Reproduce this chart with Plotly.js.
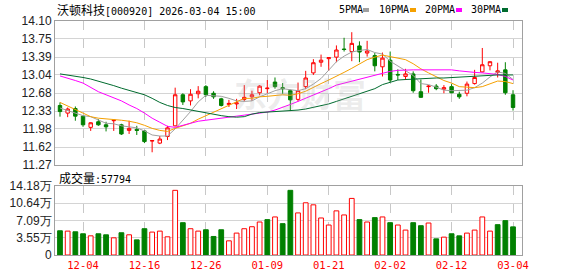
<!DOCTYPE html>
<html><head><meta charset="utf-8">
<script src="https://cdn.plot.ly/plotly-3.0.1.min.js"></script>
<style>html,body{margin:0;padding:0;background:#fff;}#chart{width:578px;height:276px;}</style>
</head><body><div id="chart"></div>
<script>
// ---- data ----
const dates = ['12-01','12-02','12-03','12-04','12-05','12-08','12-09','12-10','12-11','12-12',
  '12-15','12-16','12-17','12-18','12-19','12-22','12-23','12-24','12-25','12-26',
  '12-29','12-30','12-31','01-05','01-06','01-07','01-08','01-09','01-12','01-13',
  '01-14','01-15','01-16','01-19','01-20','01-21','01-22','01-23','01-26','01-27',
  '01-28','01-29','01-30','02-02','02-03','02-04','02-05','02-06','02-09','02-10',
  '02-11','02-12','02-13','02-24','02-25','02-26','02-27','03-02','03-03','03-04'];
const open = [12.44,12.29,12.38,12.23,12.01,12.12,12.06,12.14,12.06,11.95,
  11.97,11.94,11.74,11.70,11.83,12.04,12.65,12.53,12.67,12.81,
  12.68,12.57,12.46,12.47,12.56,12.61,12.69,12.77,12.90,12.79,
  12.73,12.56,12.81,13.08,13.29,13.36,13.39,13.55,13.50,13.61,
  13.47,13.42,13.20,13.33,13.05,13.01,13.06,12.71,12.81,12.82,
  12.76,12.81,12.66,12.68,12.87,13.10,13.22,13.09,13.14,12.65];
const high = [12.50,12.40,12.42,12.24,12.11,12.17,12.12,12.16,12.08,12.14,
  12.04,11.95,11.75,11.84,12.04,12.79,12.68,12.76,12.82,12.84,
  12.72,12.59,12.55,12.57,12.84,12.73,12.84,12.94,12.99,12.88,
  12.75,12.89,13.12,13.35,13.44,13.39,13.62,13.77,13.88,13.70,
  13.71,13.47,13.48,13.50,13.15,13.16,13.11,12.95,12.84,12.86,
  12.84,12.86,12.71,12.91,13.14,13.57,13.31,13.28,13.29,12.74];
const low = [12.22,12.21,12.14,12.02,11.94,12.04,11.93,11.94,11.86,11.88,
  11.86,11.70,11.52,11.68,11.76,12.03,12.45,12.44,12.58,12.61,
  12.57,12.42,12.41,12.37,12.52,12.53,12.64,12.68,12.77,12.67,
  12.33,12.52,12.76,13.04,13.20,13.12,13.29,13.50,13.31,13.29,
  13.40,13.11,13.01,12.90,12.94,12.94,12.69,12.59,12.69,12.74,
  12.68,12.68,12.57,12.62,12.85,13.09,13.13,12.99,12.65,12.34];
const close = [12.32,12.37,12.23,12.06,12.10,12.06,12.02,12.15,11.88,11.99,
  11.95,11.73,11.75,11.78,12.00,12.65,12.51,12.66,12.72,12.65,
  12.61,12.44,12.48,12.49,12.60,12.65,12.82,12.78,12.81,12.77,
  12.55,12.73,12.98,13.28,13.33,13.38,13.53,13.54,13.66,13.49,
  13.51,13.22,13.37,12.94,13.04,13.06,12.73,12.60,12.82,12.77,
  12.79,12.69,12.61,12.86,12.99,13.24,13.30,13.12,12.69,12.40];
// volume, in 万 (10k)
const volume = [4.98,4.91,4.77,4.36,3.94,4.36,4.15,3.53,4.57,4.15,
  3.11,5.40,4.71,4.91,3.74,13.29,6.64,5.40,4.91,5.19,
  3.81,5.19,2.91,4.50,5.40,5.81,6.78,7.27,7.82,6.44,
  13.29,8.65,10.73,10.31,7.61,6.16,9.07,8.23,11.63,7.27,
  6.78,7.68,7.82,6.64,6.16,5.12,6.64,6.02,6.57,3.32,
  3.67,4.36,3.94,4.50,5.12,7.82,4.91,6.23,7.06,5.78];
const ma5 = [12.39,12.34,12.29,12.24,12.22,12.16,12.09,12.08,12.04,12.02,
  12.00,11.94,11.86,11.84,11.84,11.98,12.14,12.32,12.51,12.64,
  12.63,12.62,12.58,12.53,12.52,12.53,12.61,12.67,12.73,12.77,
  12.75,12.73,12.77,12.86,12.97,13.14,13.30,13.41,13.49,13.52,
  13.54,13.48,13.45,13.31,13.22,13.13,13.03,12.87,12.85,12.80,
  12.74,12.73,12.74,12.74,12.79,12.88,13.00,13.10,13.07,12.95];
const ma10 = [12.50,12.43,12.36,12.28,12.22,12.19,12.18,12.17,12.15,12.13,
  12.10,12.05,11.99,11.95,11.93,11.99,12.04,12.09,12.17,12.24,
  12.31,12.38,12.45,12.52,12.58,12.58,12.61,12.62,12.63,12.65,
  12.64,12.67,12.72,12.80,12.87,12.94,13.01,13.09,13.17,13.25,
  13.34,13.39,13.43,13.40,13.37,13.34,13.26,13.16,13.08,13.01,
  12.93,12.88,12.81,12.80,12.79,12.81,12.87,12.92,12.91,12.87];
const ma20 = [13.02,12.98,12.93,12.88,12.80,12.71,12.65,12.59,12.53,12.45,
  12.38,12.29,12.19,12.11,12.03,12.01,12.05,12.10,12.13,12.15,
  12.17,12.19,12.20,12.22,12.24,12.27,12.29,12.31,12.35,12.40,
  12.46,12.52,12.58,12.65,12.71,12.77,12.84,12.88,12.92,12.96,
  13.00,13.04,13.08,13.11,13.13,13.14,13.14,13.14,13.14,13.14,
  13.14,13.14,13.12,13.10,13.09,13.08,13.07,13.05,13.01,12.94];
const ma30 = [13.06,13.04,13.02,12.99,12.96,12.92,12.88,12.83,12.78,12.74,
  12.70,12.65,12.58,12.50,12.44,12.40,12.38,12.35,12.32,12.29,
  12.26,12.24,12.22,12.21,12.22,12.27,12.30,12.31,12.32,12.33,
  12.33,12.35,12.37,12.40,12.43,12.47,12.52,12.57,12.61,12.66,
  12.71,12.77,12.85,12.90,12.94,12.95,12.96,12.97,12.97,12.98,
  12.98,12.99,13.00,13.01,13.02,13.02,13.03,13.04,13.04,13.04];
const dateTicks = ['12-04','12-16','12-26','01-09','01-21','02-02','02-12','03-04'];
const priceTicks = [11.27,11.62,11.98,12.33,12.68,13.04,13.39,13.75,14.10];
const priceTickText = ['11.27','11.62','11.98','12.33','12.68','13.04','13.39','13.75','14.10'];
const volTicks = [0,3.55,7.09,10.64,14.18];
const volTickText = ['0','3.55万','7.09万','10.64万','14.18万'];
const lastVolume = '57794';
const stockTitle = '沃顿科技';
const stockCode = '[000920] 2026-03-04 15:00';
const maNames = ['5PMA','10PMA','20PMA','30PMA'];

// ---- style ----
const RED = '#ff0000', GREEN = '#008000';
const maColors = ['#a0a0a0','#f5a000','#ff00ff','#006b2e'];
const L = 55, R = 522, T = 21, B = 255;
const px = x => (x - L) / (R - L);
const py = y => (B - y) / (B - T);
const MONO = 'DejaVu Sans Mono';
const CJK = 'Noto Sans CJK SC';

const volUp = close.map((c, i) => i === 0 ? c >= open[i] : c >= close[i - 1]);

const traces = [];
[ma5, ma10, ma20, ma30].forEach((m, k) => traces.push({
  type: 'scatter', mode: 'lines', x: dates, y: m, xaxis: 'x', yaxis: 'y',
  line: {color: maColors[k], width: 1}, hoverinfo: 'skip', showlegend: false
}));
traces.push({
  type: 'candlestick', x: dates, open: open, high: high, low: low, close: close,
  xaxis: 'x', yaxis: 'y', whiskerwidth: 0, hoverinfo: 'skip', showlegend: false,
  increasing: {line: {color: RED, width: 1}, fillcolor: '#ffffff'},
  decreasing: {line: {color: GREEN, width: 1}, fillcolor: GREEN}
});
traces.push({
  type: 'bar', x: dates, y: volume, xaxis: 'x2', yaxis: 'y2', hoverinfo: 'skip', showlegend: false,
  marker: {color: volUp.map(u => u ? '#ffffff' : GREEN),
           line: {color: volUp.map(u => u ? RED : GREEN), width: 1}}
});

const xRange = [-0.65, dates.length - 1 + 1.17];
const xCommon = {
  type: 'category', range: xRange, tickmode: 'array', tickvals: dateTicks,
  showgrid: true, gridcolor: '#c8c8c8', griddash: 'dash', gridwidth: 1,
  showline: true, mirror: true, linecolor: '#a0a0a0', linewidth: 1,
  ticks: '', zeroline: false, fixedrange: true
};
const yCommon = {
  showgrid: true, gridcolor: '#d4d4d4', gridwidth: 1, showline: true, mirror: true,
  linecolor: '#a0a0a0', linewidth: 1, ticks: '', zeroline: false, fixedrange: true,
  tickfont: {family: 'Liberation Sans', size: 12, color: '#222'}, tickmode: 'array'
};

const annotations = [
  {xref: 'paper', yref: 'paper', x: 0, y: py(9.5), xanchor: 'left', yanchor: 'middle', showarrow: false,
   text: `<span style="font-family:'${CJK}';font-size:12px">${stockTitle}</span>${stockCode}`,
   font: {family: MONO, size: 10, color: '#000'}},
  {xref: 'paper', yref: 'paper', x: px(57), y: py(177.5), xanchor: 'left', yanchor: 'middle', showarrow: false,
   text: `<span style="font-family:'${CJK}';font-size:12px">成交量</span>:${lastVolume}`,
   font: {family: MONO, size: 10, color: '#000'}},
  {xref: 'paper', yref: 'paper', x: px(300), y: py(93), xanchor: 'center', yanchor: 'middle', showarrow: false,
   text: '<b>东方财富</b>', font: {family: CJK, size: 33, color: 'rgba(170,170,170,0.22)'}}
];
const legendX = [337, 377, 423, 469];
const squareX = [363, 410, 456, 502];
const shapes = [];
maNames.forEach((n, k) => {
  annotations.push({xref: 'paper', yref: 'paper', x: px(legendX[k]), y: py(9.5), xanchor: 'left', yanchor: 'middle',
    showarrow: false, text: n, font: {family: MONO, size: 10, color: '#000'}});
  shapes.push({type: 'rect', xref: 'paper', yref: 'paper', x0: px(squareX[k]), x1: px(squareX[k] + 6),
    y0: py(12), y1: py(8), fillcolor: maColors[k], line: {width: 0}});
});

const layout = {
  width: 578, height: 276, margin: {l: L, r: 578 - R, t: T, b: 276 - B, pad: 0},
  paper_bgcolor: '#ffffff', plot_bgcolor: '#ffffff', showlegend: false, hovermode: false,
  boxgap: 0.36, bargap: 0.38, dragmode: false,
  xaxis: Object.assign({}, xCommon, {anchor: 'y', showticklabels: false, rangeslider: {visible: false}}),
  xaxis2: Object.assign({}, xCommon, {anchor: 'y2', showticklabels: true,
    tickfont: {family: MONO, size: 10.5, color: RED}}),
  yaxis: Object.assign({}, yCommon, {domain: [py(165), 1], range: [11.27, 14.10],
    tickvals: priceTicks, ticktext: priceTickText}),
  yaxis2: Object.assign({}, yCommon, {domain: [0, py(186)], range: [0, 14.18],
    tickvals: volTicks, ticktext: volTickText}),
  annotations: annotations, shapes: shapes
};
Plotly.newPlot('chart', traces, layout, {staticPlot: true, displayModeBar: false});
</script></body></html>
